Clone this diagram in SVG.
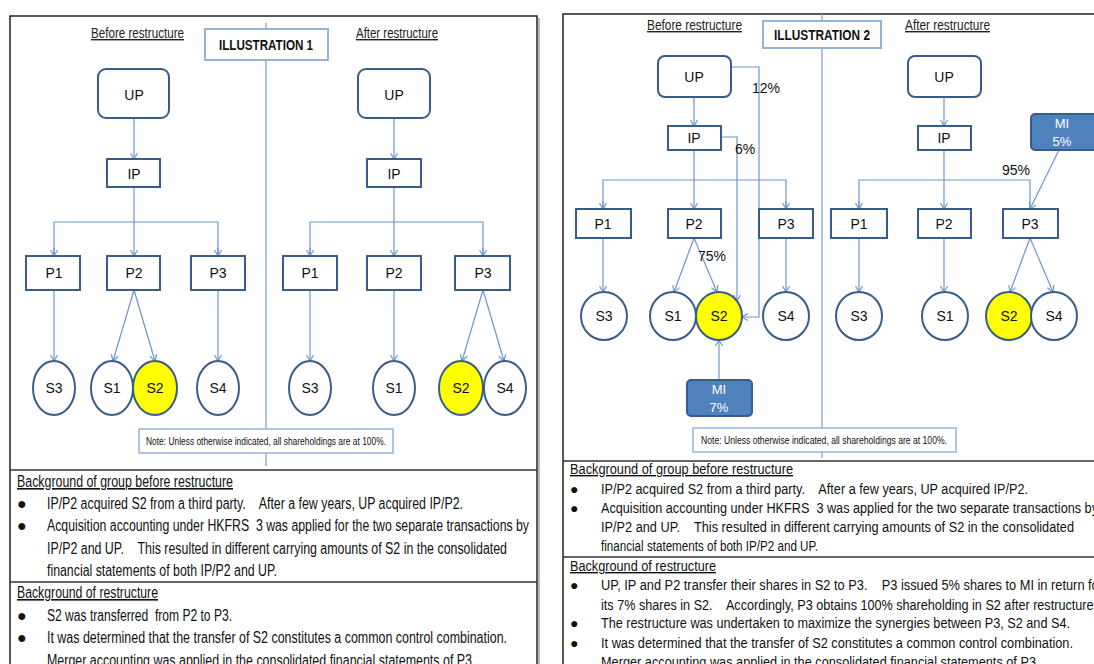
<svg xmlns="http://www.w3.org/2000/svg" width="1094" height="664" viewBox="0 0 1094 664">
<style>
text{font-family:"Liberation Sans",Arial,sans-serif;fill:#111;white-space:pre}
.lbl{font-size:14px;text-anchor:middle}
.hdr{font-size:14px;text-decoration:underline;fill:#222}
.ttl{font-size:14px;font-weight:bold;text-anchor:middle}
.note{font-size:10px;text-anchor:middle}
.bodyL{font-size:16px}
.bodyR{font-size:14px}
.box{fill:#fff;stroke:#385D8A;stroke-width:2}
.circ{fill:#fff;stroke:#385D8A;stroke-width:2}
.yel{fill:#FFFF00;stroke:#385D8A;stroke-width:2}
.mi{fill:#4F81BD;stroke:#385D8A;stroke-width:2}
.mit{font-size:13px;text-anchor:middle;fill:#fff}
.con{fill:none;stroke:#6F96CC;stroke-width:1.2}
.div{fill:none;stroke:#8FB0DA;stroke-width:1.5}
.nbox{fill:#fff;stroke:#95B3D7;stroke-width:1.5}
.tbox{fill:#fff;stroke:#95B3D7;stroke-width:2}
.panel{fill:#fff;stroke:#222;stroke-width:1.5}
.rule{stroke:#333;stroke-width:1.5}
</style>
<defs>
<marker id="ah" markerWidth="9" markerHeight="9" refX="7" refY="4.5" orient="auto" markerUnits="userSpaceOnUse">
<path d="M1,1 L7,4.5 L1,8" fill="none" stroke="#6F96CC" stroke-width="1.2"/>
</marker>
</defs>
<rect width="1094" height="664" fill="#fff"/>

<!-- Panels -->
<g id="panel1">
<line x1="539" y1="18" x2="539" y2="664" stroke="#bbb" stroke-width="2"/>
<rect class="panel" x="10" y="16" width="527" height="660"/>
<line class="rule" x1="10" y1="470" x2="537" y2="470"/>
<line class="rule" x1="10" y1="582" x2="537" y2="582"/>
</g>
<g id="panel2">
<rect class="panel" x="563" y="14" width="545" height="660"/>
<line class="rule" x1="563" y1="461" x2="1094" y2="461"/>
<line class="rule" x1="563" y1="557" x2="1094" y2="557"/>
</g>

<!-- Connectors -->
<g id="connectors">
<line class="div" x1="266" y1="23" x2="266" y2="466"/>
<line class="con" x1="134" y1="118" x2="134" y2="159" marker-end="url(#ah)"/>
<line class="con" x1="134" y1="187" x2="134" y2="256" marker-end="url(#ah)"/>
<polyline class="con" points="54,256 54,222 218,222 218,256"/>
<line class="con" x1="54" y1="248" x2="54" y2="256" marker-end="url(#ah)"/>
<line class="con" x1="218" y1="248" x2="218" y2="256" marker-end="url(#ah)"/>
<line class="con" x1="54" y1="290" x2="54" y2="361" marker-end="url(#ah)"/>
<line class="con" x1="134" y1="290" x2="113" y2="361" marker-end="url(#ah)"/>
<line class="con" x1="134" y1="290" x2="155" y2="361" marker-end="url(#ah)"/>
<line class="con" x1="218" y1="290" x2="218" y2="361" marker-end="url(#ah)"/>
<line class="con" x1="394" y1="118" x2="394" y2="159" marker-end="url(#ah)"/>
<line class="con" x1="394" y1="187" x2="394" y2="256" marker-end="url(#ah)"/>
<polyline class="con" points="310,256 310,222 483,222 483,256"/>
<line class="con" x1="310" y1="248" x2="310" y2="256" marker-end="url(#ah)"/>
<line class="con" x1="483" y1="248" x2="483" y2="256" marker-end="url(#ah)"/>
<line class="con" x1="310" y1="290" x2="310" y2="361" marker-end="url(#ah)"/>
<line class="con" x1="394" y1="290" x2="394" y2="361" marker-end="url(#ah)"/>
<line class="con" x1="483" y1="290" x2="462" y2="361" marker-end="url(#ah)"/>
<line class="con" x1="483" y1="290" x2="504" y2="361" marker-end="url(#ah)"/>
<line class="div" x1="822" y1="14" x2="822" y2="458"/>
<line class="con" x1="694" y1="97" x2="694" y2="126" marker-end="url(#ah)"/>
<line class="con" x1="694" y1="150" x2="694" y2="209" marker-end="url(#ah)"/>
<polyline class="con" points="603,209 603,180 786,180 786,209"/>
<line class="con" x1="603" y1="201" x2="603" y2="209" marker-end="url(#ah)"/>
<line class="con" x1="786" y1="201" x2="786" y2="209" marker-end="url(#ah)"/>
<polyline class="con" points="731,67 759,67 759,317 742,317" marker-end="url(#ah)"/>
<polyline class="con" points="721,137 737,137 737,301" marker-end="url(#ah)"/>
<line class="con" x1="603" y1="238" x2="603" y2="292" marker-end="url(#ah)"/>
<line class="con" x1="694" y1="238" x2="674" y2="292" marker-end="url(#ah)"/>
<line class="con" x1="694" y1="238" x2="717" y2="292" marker-end="url(#ah)"/>
<line class="con" x1="786" y1="238" x2="786" y2="292" marker-end="url(#ah)"/>
<line class="con" x1="719" y1="380" x2="719" y2="340" marker-end="url(#ah)"/>
<line class="con" x1="944" y1="97" x2="944" y2="126" marker-end="url(#ah)"/>
<line class="con" x1="944" y1="150" x2="944" y2="209" marker-end="url(#ah)"/>
<polyline class="con" points="859,209 859,180 1030,180 1030,209"/>
<line class="con" x1="859" y1="201" x2="859" y2="209" marker-end="url(#ah)"/>
<line class="con" x1="1059" y1="150" x2="1030" y2="209" marker-end="url(#ah)"/>
<line class="con" x1="859" y1="238" x2="859" y2="292" marker-end="url(#ah)"/>
<line class="con" x1="944" y1="238" x2="944" y2="292" marker-end="url(#ah)"/>
<line class="con" x1="1030" y1="238" x2="1010" y2="292" marker-end="url(#ah)"/>
<line class="con" x1="1030" y1="238" x2="1053" y2="292" marker-end="url(#ah)"/>
<text x="766" y="93" class="lbl" font-size="13">12%</text>
<text x="745" y="154" class="lbl" font-size="13">6%</text>
<text x="712" y="261" class="lbl" font-size="13">75%</text>
<text x="1016" y="175" class="lbl" font-size="13">95%</text>
</g>

<g id="ill1-title">
<rect class="tbox" x="205" y="29" width="123" height="31"/>
<text x="266" y="50" class="ttl" textLength="94" lengthAdjust="spacingAndGlyphs">ILLUSTRATION 1</text>
</g>
<text x="91" y="38" class="hdr" textLength="93" lengthAdjust="spacingAndGlyphs">Before restructure</text>
<text x="356" y="38" class="hdr" textLength="82" lengthAdjust="spacingAndGlyphs">After restructure</text>

<g id="i1b-UP"><rect class="box" x="98" y="69" width="71" height="49" rx="8"/><text x="134" y="100" class="lbl">UP</text></g>
<g id="i1b-IP"><rect class="box" x="107" y="159" width="53" height="28"/><text x="134" y="179" class="lbl">IP</text></g>
<g id="i1b-P1"><rect class="box" x="26" y="256" width="54" height="34"/><text x="54" y="278" class="lbl">P1</text></g>
<g id="i1b-P2"><rect class="box" x="107" y="256" width="53" height="34"/><text x="134" y="278" class="lbl">P2</text></g>
<g id="i1b-P3"><rect class="box" x="191" y="256" width="54" height="34"/><text x="218" y="278" class="lbl">P3</text></g>
<g id="i1b-S3"><ellipse class="circ" cx="54" cy="388" rx="21" ry="27"/><text x="54" y="393" class="lbl">S3</text></g>
<g id="i1b-S1"><ellipse class="circ" cx="112" cy="388" rx="21" ry="27"/><text x="112" y="393" class="lbl">S1</text></g>
<g id="i1b-S2"><ellipse class="yel" cx="155" cy="388" rx="22" ry="27"/><text x="155" y="393" class="lbl">S2</text></g>
<g id="i1b-S4"><ellipse class="circ" cx="218" cy="388" rx="21" ry="27"/><text x="218" y="393" class="lbl">S4</text></g>

<g id="i1a-UP"><rect class="box" x="358" y="69" width="72" height="49" rx="8"/><text x="394" y="100" class="lbl">UP</text></g>
<g id="i1a-IP"><rect class="box" x="367" y="159" width="54" height="28"/><text x="394" y="179" class="lbl">IP</text></g>
<g id="i1a-P1"><rect class="box" x="283" y="256" width="54" height="34"/><text x="310" y="278" class="lbl">P1</text></g>
<g id="i1a-P2"><rect class="box" x="367" y="256" width="54" height="34"/><text x="394" y="278" class="lbl">P2</text></g>
<g id="i1a-P3"><rect class="box" x="455" y="256" width="55" height="34"/><text x="483" y="278" class="lbl">P3</text></g>
<g id="i1a-S3"><ellipse class="circ" cx="310" cy="388" rx="21" ry="27"/><text x="310" y="393" class="lbl">S3</text></g>
<g id="i1a-S1"><ellipse class="circ" cx="394" cy="388" rx="21" ry="27"/><text x="394" y="393" class="lbl">S1</text></g>
<g id="i1a-S2"><ellipse class="yel" cx="461" cy="388" rx="22" ry="27"/><text x="461" y="393" class="lbl">S2</text></g>
<g id="i1a-S4"><ellipse class="circ" cx="505" cy="388" rx="21" ry="27"/><text x="505" y="393" class="lbl">S4</text></g>

<g id="i1-note"><rect class="nbox" x="139" y="429" width="254" height="24"/><text x="266" y="445" class="note" textLength="240" lengthAdjust="spacingAndGlyphs">Note: Unless otherwise indicated, all shareholdings are at 100%.</text></g>

<g id="ill2-title">
<rect class="tbox" x="763" y="21" width="118" height="27"/>
<text x="822" y="40" class="ttl" textLength="96" lengthAdjust="spacingAndGlyphs">ILLUSTRATION 2</text>
</g>
<text x="647" y="30" class="hdr" textLength="95" lengthAdjust="spacingAndGlyphs">Before restructure</text>
<text x="905" y="30" class="hdr" textLength="85" lengthAdjust="spacingAndGlyphs">After restructure</text>

<g id="i2b-UP"><rect class="box" x="658" y="56" width="73" height="41" rx="7"/><text x="694" y="82" class="lbl">UP</text></g>
<g id="i2b-IP"><rect class="box" x="668" y="126" width="53" height="24"/><text x="694" y="143" class="lbl">IP</text></g>
<g id="i2b-P1"><rect class="box" x="576" y="209" width="55" height="29"/><text x="603" y="229" class="lbl">P1</text></g>
<g id="i2b-P2"><rect class="box" x="668" y="209" width="53" height="29"/><text x="694" y="229" class="lbl">P2</text></g>
<g id="i2b-P3"><rect class="box" x="759" y="209" width="54" height="29"/><text x="786" y="229" class="lbl">P3</text></g>
<g id="i2b-S3"><ellipse class="circ" cx="604" cy="316" rx="23" ry="24"/><text x="604" y="321" class="lbl">S3</text></g>
<g id="i2b-S1"><ellipse class="circ" cx="673" cy="316" rx="23" ry="24"/><text x="673" y="321" class="lbl">S1</text></g>
<g id="i2b-S2"><ellipse class="yel" cx="719" cy="316" rx="23" ry="24"/><text x="719" y="321" class="lbl">S2</text></g>
<g id="i2b-S4"><ellipse class="circ" cx="786" cy="316" rx="23" ry="24"/><text x="786" y="321" class="lbl">S4</text></g>
<g id="i2b-MI"><rect class="mi" x="687" y="380" width="65" height="36" rx="4"/><text x="719" y="394" class="mit">MI</text><text x="719" y="412" class="mit">7%</text></g>

<g id="i2a-UP"><rect class="box" x="908" y="56" width="73" height="41" rx="7"/><text x="944" y="82" class="lbl">UP</text></g>
<g id="i2a-IP"><rect class="box" x="918" y="126" width="53" height="24"/><text x="944" y="143" class="lbl">IP</text></g>
<g id="i2a-MI"><rect class="mi" x="1031" y="114" width="66" height="36" rx="4"/><text x="1062" y="128" class="mit">MI</text><text x="1062" y="146" class="mit">5%</text></g>
<g id="i2a-P1"><rect class="box" x="831" y="209" width="56" height="29"/><text x="859" y="229" class="lbl">P1</text></g>
<g id="i2a-P2"><rect class="box" x="918" y="209" width="53" height="29"/><text x="944" y="229" class="lbl">P2</text></g>
<g id="i2a-P3"><rect class="box" x="1003" y="209" width="55" height="29"/><text x="1030" y="229" class="lbl">P3</text></g>
<g id="i2a-S3"><ellipse class="circ" cx="859" cy="316" rx="23" ry="24"/><text x="859" y="321" class="lbl">S3</text></g>
<g id="i2a-S1"><ellipse class="circ" cx="945" cy="316" rx="23" ry="24"/><text x="945" y="321" class="lbl">S1</text></g>
<g id="i2a-S2"><ellipse class="yel" cx="1009" cy="316" rx="23" ry="24"/><text x="1009" y="321" class="lbl">S2</text></g>
<g id="i2a-S4"><ellipse class="circ" cx="1054" cy="316" rx="23" ry="24"/><text x="1054" y="321" class="lbl">S4</text></g>

<g id="i2-note"><rect class="nbox" x="693" y="428" width="263" height="24"/><text x="824" y="444" class="note" textLength="246" lengthAdjust="spacingAndGlyphs">Note: Unless otherwise indicated, all shareholdings are at 100%.</text></g>

<g id="i1-text">
<text x="17" y="487" class="bodyL" text-decoration="underline" textLength="216" lengthAdjust="spacingAndGlyphs">Background of group before restructure</text>
<text x="17" y="509" class="bodyL">●</text>
<text x="47" y="509" class="bodyL" textLength="416" lengthAdjust="spacingAndGlyphs">IP/P2 acquired S2 from a third party.    After a few years, UP acquired IP/P2.</text>
<text x="17" y="531" class="bodyL">●</text>
<text x="47" y="531" class="bodyL" textLength="482" lengthAdjust="spacingAndGlyphs">Acquisition accounting under HKFRS  3 was applied for the two separate transactions by</text>
<text x="47" y="554" class="bodyL" textLength="460" lengthAdjust="spacingAndGlyphs">IP/P2 and UP.    This resulted in different carrying amounts of S2 in the consolidated</text>
<text x="47" y="576" class="bodyL" textLength="230" lengthAdjust="spacingAndGlyphs">financial statements of both IP/P2 and UP.</text>
<text x="17" y="598" class="bodyL" text-decoration="underline" textLength="141" lengthAdjust="spacingAndGlyphs">Background of restructure</text>
<text x="17" y="621" class="bodyL">●</text>
<text x="47" y="621" class="bodyL" textLength="185" lengthAdjust="spacingAndGlyphs">S2 was transferred  from P2 to P3.</text>
<text x="17" y="643" class="bodyL">●</text>
<text x="47" y="643" class="bodyL" textLength="460" lengthAdjust="spacingAndGlyphs">It was determined that the transfer of S2 constitutes a common control combination.</text>
<text x="47" y="666" class="bodyL" textLength="425" lengthAdjust="spacingAndGlyphs">Merger accounting was applied in the consolidated financial statements of P3</text>
</g>

<g id="i2-text">
<text x="570" y="474" class="bodyR" text-decoration="underline" textLength="223" lengthAdjust="spacingAndGlyphs">Background of group before restructure</text>
<text x="570" y="494" class="bodyR">●</text>
<text x="601" y="494" class="bodyR" textLength="427" lengthAdjust="spacingAndGlyphs">IP/P2 acquired S2 from a third party.    After a few years, UP acquired IP/P2.</text>
<text x="570" y="513" class="bodyR">●</text>
<text x="601" y="513" class="bodyR" textLength="497" lengthAdjust="spacingAndGlyphs">Acquisition accounting under HKFRS  3 was applied for the two separate transactions by</text>
<text x="601" y="532" class="bodyR" textLength="473" lengthAdjust="spacingAndGlyphs">IP/P2 and UP.    This resulted in different carrying amounts of S2 in the consolidated</text>
<text x="601" y="551" class="bodyR" textLength="217" lengthAdjust="spacingAndGlyphs">financial statements of both IP/P2 and UP.</text>
<text x="570" y="571" class="bodyR" text-decoration="underline" textLength="146" lengthAdjust="spacingAndGlyphs">Background of restructure</text>
<text x="570" y="590" class="bodyR">●</text>
<text x="601" y="590" class="bodyR" textLength="502" lengthAdjust="spacingAndGlyphs">UP, IP and P2 transfer their shares in S2 to P3.    P3 issued 5% shares to MI in return for</text>
<text x="601" y="610" class="bodyR" textLength="496" lengthAdjust="spacingAndGlyphs">its 7% shares in S2.    Accordingly, P3 obtains 100% shareholding in S2 after restructure.</text>
<text x="570" y="628" class="bodyR">●</text>
<text x="601" y="628" class="bodyR" textLength="469" lengthAdjust="spacingAndGlyphs">The restructure was undertaken to maximize the synergies between P3, S2 and S4.</text>
<text x="570" y="648" class="bodyR">●</text>
<text x="601" y="648" class="bodyR" textLength="472" lengthAdjust="spacingAndGlyphs">It was determined that the transfer of S2 constitutes a common control combination.</text>
<text x="601" y="667" class="bodyR" textLength="435" lengthAdjust="spacingAndGlyphs">Merger accounting was applied in the consolidated financial statements of P3</text>
</g>
</svg>
